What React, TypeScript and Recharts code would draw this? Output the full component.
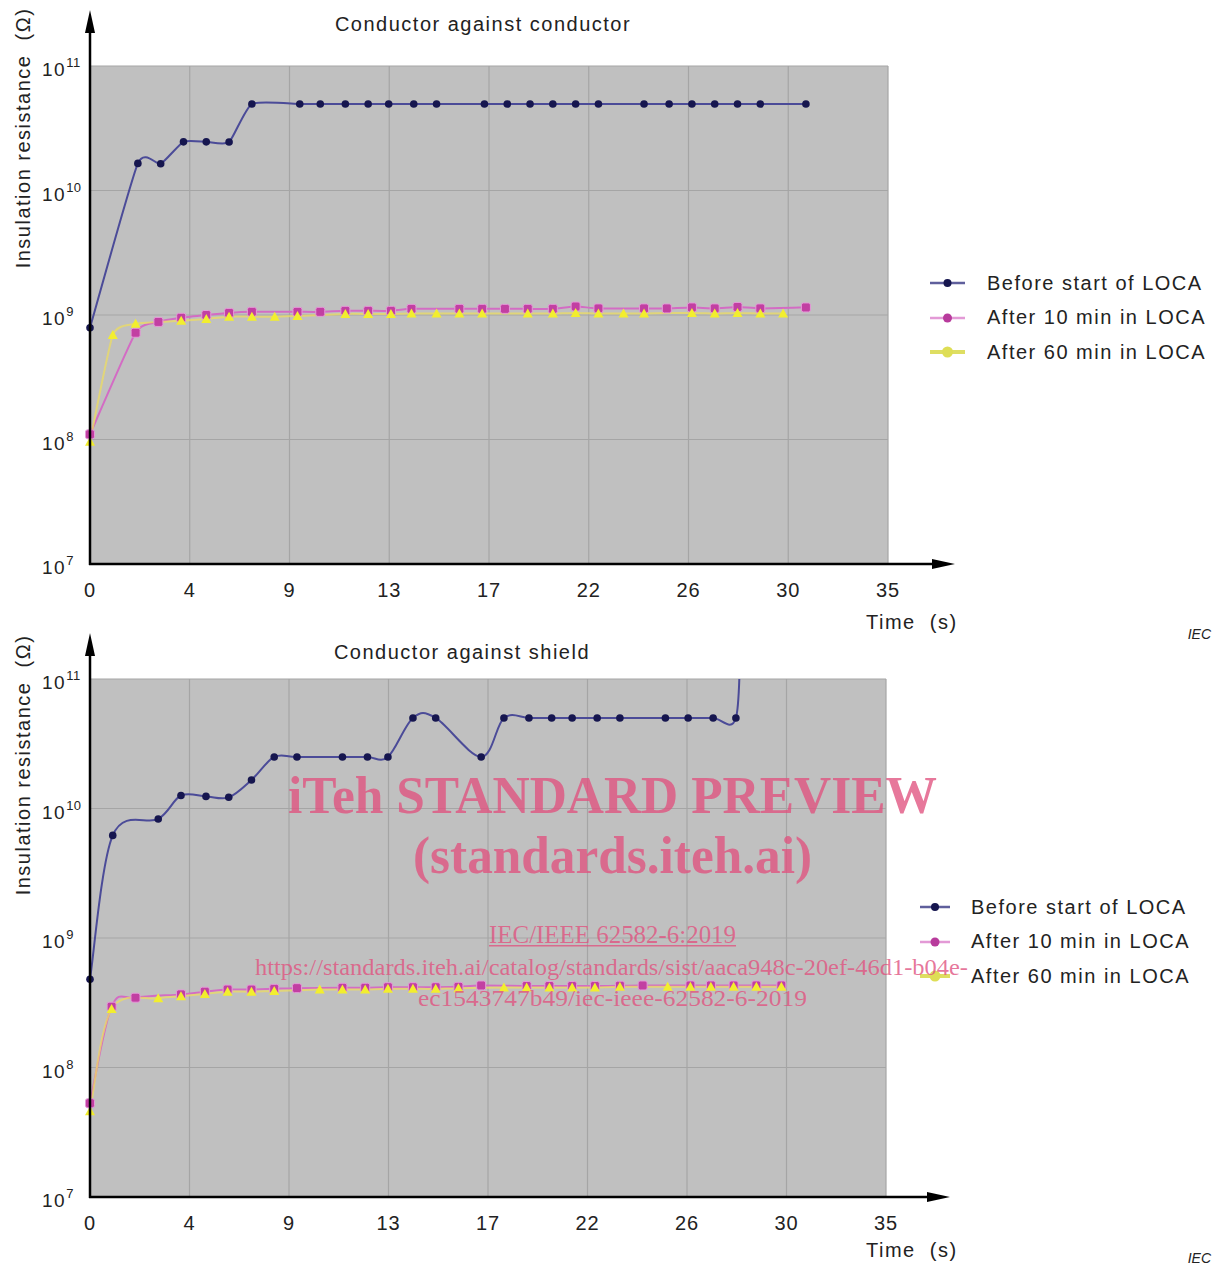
import React from 'react';
import { LineChart, Line, XAxis, YAxis, CartesianGrid, Legend } from 'recharts';

const xTicks = [0, 4.375, 8.75, 13.125, 17.5, 21.875, 26.25, 30.625, 35];
const xTickLabels = ['0', '4', '9', '13', '17', '22', '26', '30', '35'];
const yTicks = [1e7, 1e8, 1e9, 1e10, 1e11];
const yTickExponents = ['7', '8', '9', '10', '11'];
const seriesNames = ['Before start of LOCA', 'After 10 min in LOCA', 'After 60 min in LOCA'];

// conductor against conductor
const ccBeforeTime = [0, 2.1, 3.1, 4.1, 5.1, 6.1, 7.1, 9.2, 10.1, 11.2, 12.2, 13.1, 14.2, 15.2, 17.3, 18.3, 19.3, 20.3, 21.3, 22.3, 24.3, 25.4, 26.4, 27.4, 28.4, 29.4, 31.4];
const ccBeforeValue = [7.9e8, 1.65e10, 1.64e10, 2.46e10, 2.46e10, 2.45e10, 4.95e10, 4.95e10, 4.95e10, 4.95e10, 4.95e10, 4.95e10, 4.95e10, 4.95e10, 4.95e10, 4.95e10, 4.95e10, 4.95e10, 4.95e10, 4.95e10, 4.95e10, 4.95e10, 4.95e10, 4.95e10, 4.95e10, 4.95e10, 4.95e10];
const cc10Time = [0, 2.0, 3.0, 4.0, 5.1, 6.1, 7.1, 9.1, 10.1, 11.2, 12.2, 13.2, 14.1, 16.2, 17.2, 18.2, 19.2, 20.3, 21.3, 22.3, 24.3, 25.3, 26.4, 27.4, 28.4, 29.4, 31.4];
const cc10Value = [1.1e8, 7.2e8, 8.8e8, 9.5e8, 1.0e9, 1.04e9, 1.06e9, 1.06e9, 1.06e9, 1.08e9, 1.08e9, 1.08e9, 1.12e9, 1.12e9, 1.12e9, 1.12e9, 1.12e9, 1.12e9, 1.17e9, 1.13e9, 1.13e9, 1.13e9, 1.15e9, 1.13e9, 1.16e9, 1.13e9, 1.15e9];
const cc60Time = [0, 1.0, 2.0, 4.0, 5.1, 6.1, 7.1, 8.1, 9.1, 11.2, 12.2, 13.2, 14.1, 15.2, 16.2, 17.2, 19.2, 20.3, 21.3, 22.3, 23.4, 24.3, 26.4, 27.4, 28.4, 29.4, 30.4];
const cc60Value = [9.6e7, 6.9e8, 8.5e8, 9.0e8, 9.3e8, 9.7e8, 9.7e8, 9.7e8, 9.8e8, 1.02e9, 1.02e9, 1.02e9, 1.03e9, 1.03e9, 1.03e9, 1.03e9, 1.03e9, 1.03e9, 1.04e9, 1.03e9, 1.03e9, 1.03e9, 1.04e9, 1.03e9, 1.04e9, 1.03e9, 1.03e9];

// conductor against shield (last "before" point runs off the top of the plot)
const csBeforeTime = [0, 1.0, 3.0, 4.0, 5.1, 6.1, 7.1, 8.1, 9.1, 11.1, 12.2, 13.1, 14.2, 15.2, 17.2, 18.2, 19.3, 20.3, 21.2, 22.3, 23.3, 25.3, 26.3, 27.4, 28.4, 28.6];
const csBeforeValue = [4.8e8, 6.2e9, 8.3e9, 1.26e10, 1.24e10, 1.22e10, 1.66e10, 2.5e10, 2.5e10, 2.5e10, 2.5e10, 2.5e10, 5.0e10, 5.0e10, 2.5e10, 5.0e10, 5.0e10, 5.0e10, 5.0e10, 5.0e10, 5.0e10, 5.0e10, 5.0e10, 5.0e10, 5.0e10, 2.5e11];
const cs10Time = [0, 0.95, 2.0, 4.0, 5.05, 6.05, 7.1, 8.1, 9.1, 11.1, 12.1, 13.1, 14.2, 15.2, 16.2, 17.2, 19.2, 20.2, 21.2, 22.2, 23.3, 24.3, 26.4, 27.3, 28.3, 29.3, 30.4];
const cs10Value = [5.3e7, 2.95e8, 3.46e8, 3.67e8, 3.85e8, 4.0e8, 4.0e8, 4.05e8, 4.1e8, 4.13e8, 4.13e8, 4.17e8, 4.17e8, 4.17e8, 4.2e8, 4.3e8, 4.26e8, 4.26e8, 4.26e8, 4.26e8, 4.28e8, 4.3e8, 4.3e8, 4.3e8, 4.3e8, 4.3e8, 4.3e8];
const cs60Time = [0, 0.95, 3.0, 4.0, 5.05, 6.05, 7.1, 8.1, 10.1, 11.1, 12.1, 13.1, 14.2, 15.2, 16.2, 18.2, 19.2, 20.2, 21.2, 22.2, 23.3, 25.4, 26.4, 27.3, 28.3, 29.3, 30.4];
const cs60Value = [4.6e7, 2.83e8, 3.42e8, 3.55e8, 3.7e8, 3.85e8, 3.85e8, 3.9e8, 4.0e8, 4.0e8, 4.0e8, 4.05e8, 4.05e8, 4.05e8, 4.1e8, 4.15e8, 4.15e8, 4.15e8, 4.15e8, 4.15e8, 4.2e8, 4.2e8, 4.2e8, 4.2e8, 4.2e8, 4.2e8, 4.2e8];

const zip = (t: number[], v: number[]) => t.map((x, i) => ({ t: x, v: v[i] }));

// catmull-rom style smoothing through every point; k sets how loose the bends are
const makeCurve = (k: number): any => (context: any) => {
  let pts: number[][] = [];
  return {
    areaStart() {},
    areaEnd() {},
    lineStart() { pts = []; },
    point(x: number, y: number) { pts.push([+x, +y]); },
    lineEnd() {
      if (!pts.length) return;
      context.moveTo(pts[0][0], pts[0][1]);
      for (let i = 0; i < pts.length - 1; i++) {
        const p0 = pts[i - 1] || pts[i];
        const p1 = pts[i];
        const p2 = pts[i + 1];
        const p3 = pts[i + 2] || p2;
        context.bezierCurveTo(
          p1[0] + (p2[0] - p0[0]) / k, p1[1] + (p2[1] - p0[1]) / k,
          p2[0] - (p3[0] - p1[0]) / k, p2[1] - (p3[1] - p1[1]) / k,
          p2[0], p2[1]
        );
      }
    },
  };
};

const FONT = '"Liberation Sans", Arial, sans-serif';
const SERIF = '"Liberation Serif", "Times New Roman", serif';

const circleDot = (p: any) =>
  p.cx == null ? <g key={`c${p.index}`} /> : <circle key={`c${p.index}`} cx={p.cx} cy={p.cy} r={3.8} fill="#16164f" />;
const squareDot = (p: any) =>
  p.cx == null ? <g key={`s${p.index}`} /> : (
    <rect key={`s${p.index}`} x={p.cx - 4.5} y={p.cy - 4.5} width={9} height={9} rx={2} fill="#c23fa2" stroke="#e49ad8" strokeWidth={1} />
  );
const triangleDot = (p: any) =>
  p.cx == null ? <g key={`y${p.index}`} /> : (
    <path key={`y${p.index}`} d={`M${p.cx},${p.cy - 5} L${p.cx + 5},${p.cy + 4} L${p.cx - 5},${p.cy + 4} Z`} fill="#f2ee2e" />
  );

const legendStyles = [
  { line: '#5f5f9c', dot: '#16164f', r: 4, w: 2.5 },
  { line: '#e39ad6', dot: '#b83b9c', r: 4.5, w: 2.5 },
  { line: '#dede62', dot: '#dede55', r: 5.5, w: 4 },
];

const LegendBox = ({ svgW, x1, x2 }: { svgW: number; x1: number; x2: number }) => (
  <div style={{ fontFamily: FONT, fontSize: 20, letterSpacing: 1.5, color: '#222' }}>
    {seriesNames.map((name, i) => (
      <div key={name} style={{ height: 34.5, display: 'flex', alignItems: 'center', whiteSpace: 'nowrap' }}>
        <svg width={svgW} height={14} style={{ flex: 'none' }}>
          <line x1={x1} x2={x2} y1={7} y2={7} stroke={legendStyles[i].line} strokeWidth={legendStyles[i].w} />
          <circle cx={(x1 + x2) / 2} cy={7} r={legendStyles[i].r} fill={legendStyles[i].dot} />
        </svg>
        <span>{name}</span>
      </div>
    ))}
  </div>
);

interface PanelProps {
  top: number;
  height: number;
  plotTop: number;
  plotBottom: number;
  plotRight: number;
  title: string;
  titleX: number;
  titleY: number;
  yLabelY: number;
  arrowTop: number;
  xArrowTip: number;
  legendLeft: number;
  legendTop: number;
  legendSvgW: number;
  legendX1: number;
  legendX2: number;
  timeY: number;
  iecY: number;
  curve: any;
  before: any[];
  after10: any[];
  after60: any[];
}

const Panel = (p: PanelProps) => {
  const plotLeft = 90;
  const yAxisW = 60;
  const xAxisH = 40;
  return (
    <div style={{ position: 'absolute', left: 0, top: p.top, width: 1219, height: p.height }}>
      <LineChart
        width={1219}
        height={p.height}
        margin={{ top: p.plotTop, left: plotLeft - yAxisW, right: 1219 - p.plotRight, bottom: p.height - p.plotBottom - xAxisH }}
      >
        <CartesianGrid fill="#c0c0c0" fillOpacity={1} stroke="#a5a5a5" strokeWidth={1.2} />
        <XAxis
          type="number"
          dataKey="t"
          domain={[0, 35]}
          ticks={xTicks}
          interval={0}
          height={xAxisH}
          axisLine={false}
          tickLine={false}
          tick={(t: any) => (
            <text key={`x${t.index}`} x={t.x} y={p.plotBottom + 33} textAnchor="middle" fontFamily={FONT} fontSize={20} fill="#222" letterSpacing={1}>
              {xTickLabels[xTicks.indexOf(t.payload.value)]}
            </text>
          )}
        />
        <YAxis
          type="number"
          scale="log"
          domain={[1e7, 1e11]}
          ticks={yTicks}
          interval={0}
          allowDataOverflow
          width={yAxisW}
          axisLine={false}
          tickLine={false}
          tick={(t: any) => (
            <text key={`y${t.index}`} x={42} y={t.y + 10} fontFamily={FONT} fontSize={19} fill="#222" letterSpacing={1.5}>
              10
              <tspan dy={-9} fontSize={13} letterSpacing={0.5}>{yTickExponents[yTicks.indexOf(t.payload.value)]}</tspan>
            </text>
          )}
        />
        <Legend
          layout="vertical"
          align="center"
          verticalAlign="middle"
          wrapperStyle={{ left: p.legendLeft, top: p.legendTop, width: 300 }}
          content={() => <LegendBox svgW={p.legendSvgW} x1={p.legendX1} x2={p.legendX2} />}
        />
        <Line data={p.before} dataKey="v" name={seriesNames[0]} type={p.curve} stroke="#4b4b98" strokeWidth={2} dot={circleDot} isAnimationActive={false} />
        <Line data={p.after10} dataKey="v" name={seriesNames[1]} type={p.curve} stroke="#d36cc4" strokeWidth={2} dot={squareDot} isAnimationActive={false} />
        <Line data={p.after60} dataKey="v" name={seriesNames[2]} type={p.curve} stroke="#ecdc62" strokeOpacity={0.75} strokeWidth={2} dot={triangleDot} isAnimationActive={false} />
      </LineChart>
      <svg width={1219} height={p.height + 12} style={{ position: 'absolute', left: 0, top: 0, pointerEvents: 'none', overflow: 'visible' }}>
        <line x1={plotLeft} x2={plotLeft} y1={p.arrowTop + 20} y2={p.plotBottom + 1} stroke="#000" strokeWidth={2.5} />
        <polygon points={`${plotLeft},${p.arrowTop} ${plotLeft - 5},${p.arrowTop + 23} ${plotLeft + 5},${p.arrowTop + 23}`} fill="#000" />
        <line x1={plotLeft - 1} x2={p.xArrowTip - 20} y1={p.plotBottom} y2={p.plotBottom} stroke="#000" strokeWidth={2.5} />
        <polygon points={`${p.xArrowTip},${p.plotBottom} ${p.xArrowTip - 23},${p.plotBottom - 5} ${p.xArrowTip - 23},${p.plotBottom + 5}`} fill="#000" />
        <text x={p.titleX} y={p.titleY} textAnchor="middle" fontFamily={FONT} fontSize={20} letterSpacing={1.5} fill="#222">{p.title}</text>
        <text transform={`translate(30,${p.yLabelY}) rotate(-90)`} textAnchor="middle" fontFamily={FONT} fontSize={20} letterSpacing={1.5} fill="#222">
          {'Insulation resistance\u00a0 (\u03a9)'}
        </text>
        <text x={866} y={p.timeY} fontFamily={FONT} fontSize={20} letterSpacing={1.5} fill="#222">{'Time\u00a0 (s)'}</text>
        <text x={1211} y={p.iecY} textAnchor="end" fontFamily={FONT} fontSize={14} fontStyle="italic" fill="#222">IEC</text>
      </svg>
    </div>
  );
};

const MARK = '#e0527f';

const App = () => (
  <div style={{ position: 'absolute', left: 0, top: 0, width: 1219, height: 1267, background: '#fff', overflow: 'hidden' }}>
    <Panel
      top={0}
      height={640}
      plotTop={66}
      plotBottom={564}
      plotRight={888}
      title="Conductor against conductor"
      titleX={483}
      titleY={31}
      yLabelY={138}
      arrowTop={10}
      xArrowTip={955}
      legendLeft={928}
      legendTop={266}
      legendSvgW={59}
      legendX1={2}
      legendX2={37}
      timeY={629}
      iecY={639}
      curve={makeCurve(11)}
      before={zip(ccBeforeTime, ccBeforeValue)}
      after10={zip(cc10Time, cc10Value)}
      after60={zip(cc60Time, cc60Value)}
    />
    <Panel
      top={627}
      height={640}
      plotTop={52}
      plotBottom={570}
      plotRight={886}
      title="Conductor against shield"
      titleX={462}
      titleY={32}
      yLabelY={138}
      arrowTop={6}
      xArrowTip={950}
      legendLeft={918}
      legendTop={263}
      legendSvgW={53}
      legendX1={2}
      legendX2={32}
      timeY={630}
      iecY={636}
      curve={makeCurve(6)}
      before={zip(csBeforeTime, csBeforeValue)}
      after10={zip(cs10Time, cs10Value)}
      after60={zip(cs60Time, cs60Value)}
    />
    <svg width={1219} height={1267} style={{ position: 'absolute', left: 0, top: 0, pointerEvents: 'none' }}>
      <g fill={MARK} fillOpacity={0.78} fontFamily={SERIF}>
        <text x={288} y={813} fontSize={52} fontWeight="bold" textLength={649} lengthAdjust="spacingAndGlyphs">iTeh STANDARD PREVIEW</text>
        <text x={413} y={873} fontSize={52} fontWeight="bold" textLength={399} lengthAdjust="spacingAndGlyphs">(standards.iteh.ai)</text>
        <text x={489} y={943} fontSize={26} textLength={247} lengthAdjust="spacingAndGlyphs">IEC/IEEE 62582-6:2019</text>
        <rect x={489} y={945} width={247} height={1.5} />
        <text x={255} y={975} fontSize={23} textLength={713} lengthAdjust="spacingAndGlyphs">https://standards.iteh.ai/catalog/standards/sist/aaca948c-20ef-46d1-b04e-</text>
        <text x={418} y={1006} fontSize={23} textLength={389} lengthAdjust="spacingAndGlyphs">ec1543747b49/iec-ieee-62582-6-2019</text>
      </g>
    </svg>
  </div>
);

export default App;
